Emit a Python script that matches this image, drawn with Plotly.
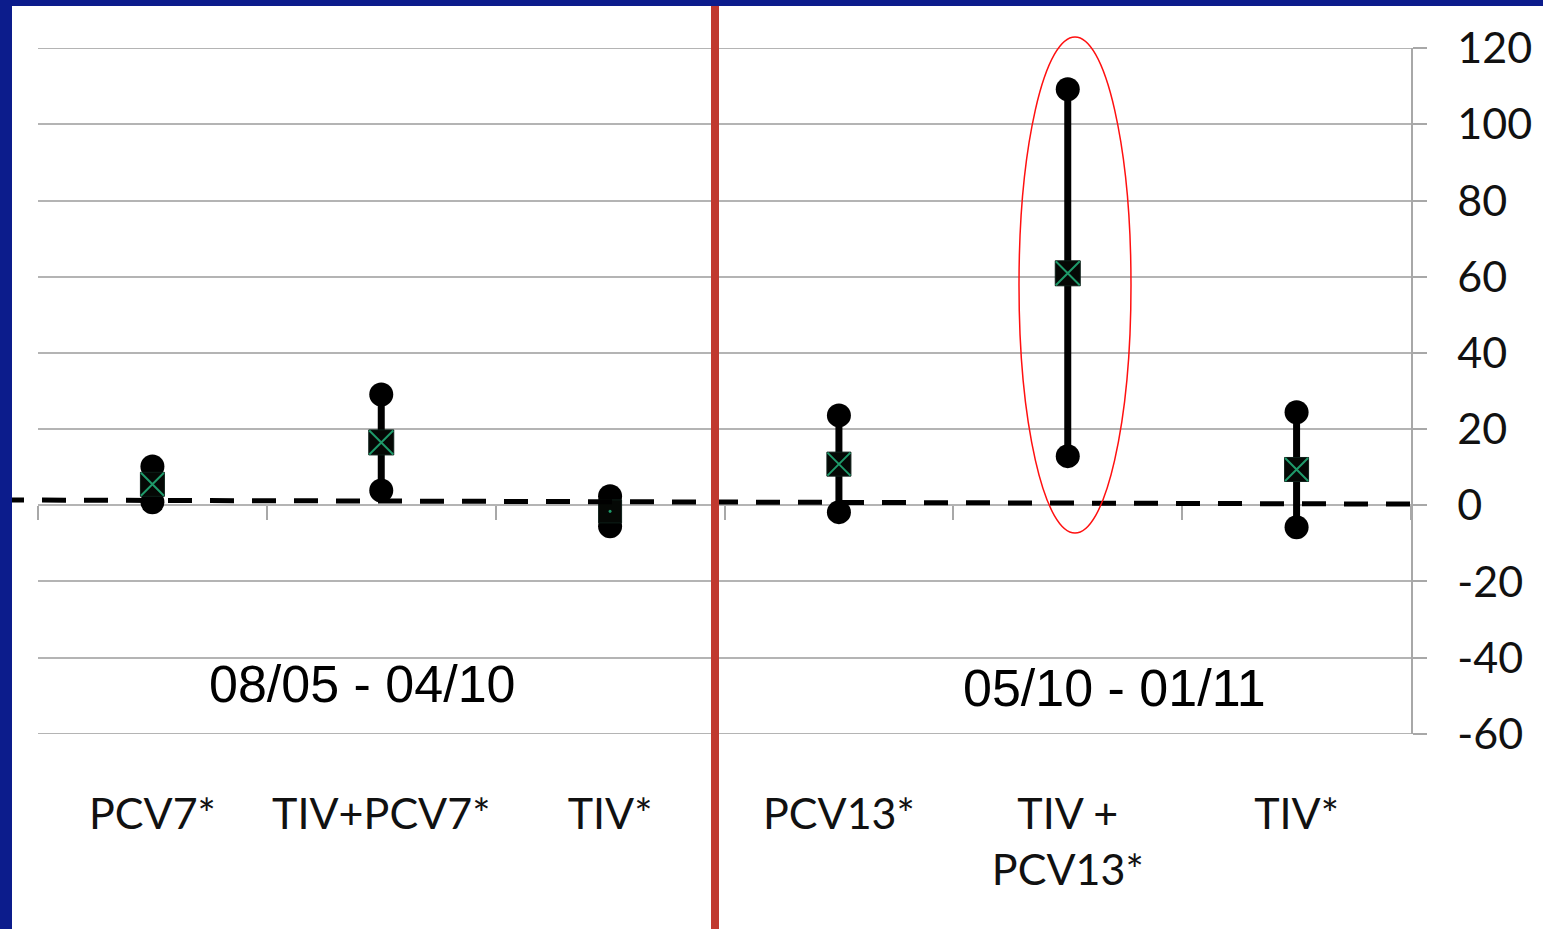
import plotly.graph_objects as go

# ---- data ----
categories = ["PCV7*", "TIV+PCV7*", "TIV*", "PCV13*", "TIV +<br>PCV13*", "TIV*"]
mean_vals = [5.5, 16.5, -1.6, 10.8, 60.9, 9.4]
low_vals = [0.8, 3.9, -5.5, -1.8, 12.9, -5.8]
high_vals = [10.2, 29.1, 2.4, 23.6, 109.2, 24.4]
period_labels = ["08/05 - 04/10", "05/10 - 01/11"]
y_ticks = [-60, -40, -20, 0, 20, 40, 60, 80, 100, 120]
y_tick_text = ["-60", "-40", "-20", "0", "20", "40", "60", "80", "100", "120"]

# ---- geometry (pixels) ----
W, H = 1543, 929
L, R, T, B = 38, 1411, 48, 734
pw = R - L

def px_x(p):  # pixel -> paper x
    return (p - L) / pw

def px_y(p):  # pixel -> paper y
    return (B - p) / (B - T)

xs = [i + 0.5 for i in range(len(categories))]

fig = go.Figure()

# error bar lines
lx, ly = [], []
for x, lo, hi in zip(xs, low_vals, high_vals):
    lx += [x, x, None]
    ly += [lo, hi, None]
fig.add_trace(go.Scatter(x=lx, y=ly, mode="lines", line=dict(color="black", width=7),
                         hoverinfo="skip", showlegend=False))
# end circles
fig.add_trace(go.Scatter(x=xs + xs, y=low_vals + high_vals, mode="markers",
                         marker=dict(symbol="circle", size=24, color="black", opacity=1),
                         showlegend=False))
# mean markers
fig.add_trace(go.Scatter(x=xs, y=mean_vals, mode="markers",
                         marker=dict(symbol="square", size=[24, 25, 23, 24, 25, 24],
                                     color="#050805", opacity=1,
                                     line=dict(color="#0d1f18", width=1)),
                         showlegend=False))
fig.add_trace(go.Scatter(x=xs, y=mean_vals, mode="markers",
                         marker=dict(symbol="x-thin", size=[23, 24, 2, 23, 24, 23],
                                     color="#1f9a6a", opacity=1,
                                     line=dict(color="#1f9a6a", width=2)),
                         showlegend=False))

shapes = []
# edge gridlines (top / bottom)
for yv in (y_ticks[0], y_ticks[-1]):
    shapes.append(dict(type="line", xref="paper", yref="y", x0=0, x1=px_x(1425),
                       y0=yv, y1=yv, line=dict(color="#b4b4b4", width=1.5), layer="below"))
# dashed baseline
shapes.append(dict(type="line", xref="paper", yref="y", x0=px_x(0), x1=px_x(1427),
                   y0=1.4, y1=0.3, line=dict(color="black", width=5, dash="24px,18px"),
                   layer="above"))
# red vertical divider
shapes.append(dict(type="line", xref="paper", yref="paper", x0=px_x(715), x1=px_x(715),
                   y0=px_y(5), y1=px_y(H + 5), line=dict(color="#c0392f", width=8),
                   layer="above"))
# red ellipse
shapes.append(dict(type="circle", xref="paper", yref="paper",
                   x0=px_x(1019), x1=px_x(1131), y0=px_y(533), y1=px_y(37),
                   line=dict(color="#ff1010", width=1.5), layer="above"))
# blue frame
shapes.append(dict(type="rect", xref="paper", yref="paper", x0=px_x(-2), x1=px_x(12),
                   y0=px_y(H + 5), y1=px_y(-2), fillcolor="#0c1c8c", line=dict(width=0),
                   layer="above"))
shapes.append(dict(type="rect", xref="paper", yref="paper", x0=px_x(-2), x1=px_x(W + 5),
                   y0=px_y(6), y1=px_y(-2), fillcolor="#0c1c8c", line=dict(width=0),
                   layer="above"))

annotations = [
    dict(text=period_labels[0], xref="paper", yref="paper", x=px_x(362), y=px_y(684),
         showarrow=False, font=dict(family="Liberation Sans, Arial", size=52, color="black"),
         xanchor="center", yanchor="middle"),
    dict(text=period_labels[1], xref="paper", yref="paper", x=px_x(1114), y=px_y(688),
         showarrow=False, font=dict(family="Liberation Sans, Arial", size=52, color="black"),
         xanchor="center", yanchor="middle"),
]

fig.update_layout(
    width=W, height=H,
    margin=dict(l=L, r=W - R, t=T, b=H - B),
    paper_bgcolor="white", plot_bgcolor="white",
    showlegend=False,
    shapes=shapes, annotations=annotations,
    xaxis=dict(range=[0, 6], tickvals=xs, ticktext=categories, showgrid=False,
               zeroline=False, showline=False, ticks="",
               tickfont=dict(family="Lato", size=43, color="#111111"),
               ticklabelstandoff=51),
    xaxis2=dict(range=[0, 6], overlaying="x", anchor="free", position=1/3,
                tickvals=list(range(7)), ticks="outside", ticklen=14, tickwidth=1.5,
                tickcolor="#a8a8a8", showticklabels=False, showgrid=False,
                zeroline=False, showline=False),
    yaxis=dict(range=[-60.05, 120.05], tickvals=y_ticks, ticktext=y_tick_text,
               side="right", showgrid=True,
               gridcolor="#b4b4b4", gridwidth=1.5, zeroline=False,
               showline=True, linecolor="#a8a8a8", linewidth=1.5,
               ticks="outside", ticklen=14, tickwidth=1.5, tickcolor="#a8a8a8",
               tickfont=dict(family="Lato", size=43, color="#111111"),
               ticklabelstandoff=22),
)
# invisible trace on xaxis2 so it renders
fig.add_trace(go.Scatter(x=[0], y=[0], xaxis="x2", mode="markers",
                         marker=dict(size=0.1, opacity=0), hoverinfo="skip", showlegend=False))

fig.write_html("out.html", config={"displayModeBar": False},
               post_script="document.body.style.margin='0px';")
